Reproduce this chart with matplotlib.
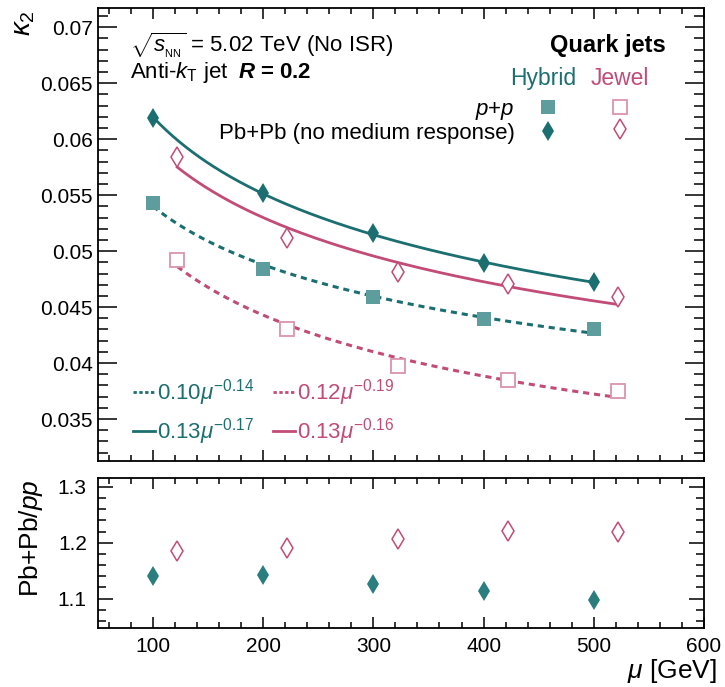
#!/usr/bin/python3
'''
Abstract:
    kappa_2 of quark jets vs mu, Hybrid and Jewel, p+p and Pb+Pb, with power law fits
Usage:
    plot.py
'''
import numpy as np
import matplotlib
matplotlib.use("Agg")
import matplotlib.pyplot as plt
from matplotlib.ticker import MultipleLocator, FuncFormatter
from matplotlib.lines import Line2D

#--------------------------------------------
# data
mu_hybrid = [100, 200, 300, 400, 500]
mu_jewel = [122, 222, 322, 422, 522]
kappa_hybrid_pp = [0.0543, 0.0484, 0.0459, 0.0439, 0.0430]
kappa_hybrid_pbpb = [0.0619, 0.0552, 0.0516, 0.0489, 0.0472]
kappa_jewel_pp = [0.0492, 0.0430, 0.0397, 0.0385, 0.0375]
kappa_jewel_pbpb = [0.0584, 0.0512, 0.0481, 0.0471, 0.0459]
ratio_hybrid = [1.140, 1.142, 1.126, 1.113, 1.098]
ratio_jewel = [1.185, 1.191, 1.207, 1.221, 1.219]
fit_labels_hybrid = [r'0.10$\mu^{-0.14}$', r'0.13$\mu^{-0.17}$']
fit_labels_jewel = [r'0.12$\mu^{-0.19}$', r'0.13$\mu^{-0.16}$']

# colours
teal = '#1c6f70'
teal_light = '#5e9d9e'
teal_ratio = '#2b7e7f'
pink = '#c24c77'
pink_light = '#dc93ad'

def power_fit(x, y):
    # fit y = a * x^b in log space, return a smooth curve over the data range
    b, log_a = np.polyfit(np.log(x), np.log(y), 1)
    xx = np.linspace(min(x), max(x), 200)
    return xx, np.exp(log_a) * xx ** b

#--------------------------------------------
# main code
if __name__ == "__main__":
    plt.rcParams['font.family'] = ['Liberation Sans', 'DejaVu Sans']
    plt.rcParams['mathtext.fontset'] = 'custom'
    plt.rcParams['mathtext.rm'] = 'Liberation Sans'
    plt.rcParams['mathtext.it'] = 'Liberation Sans:italic'
    plt.rcParams['mathtext.bf'] = 'Liberation Sans:bold'
    if 'mathtext.bfit' in plt.rcParams:
        plt.rcParams['mathtext.bfit'] = 'Liberation Sans:bold:italic'
    plt.rcParams['axes.linewidth'] = 1.3

    fs = 16
    tfs = 15
    fig = plt.figure(figsize=(7.25, 6.87), dpi=100)
    ax = fig.add_axes([0.135, 0.329, 0.836, 0.659])
    axr = fig.add_axes([0.135, 0.0855, 0.836, 0.219])

    #--------------------------------------------
    # top panel: kappa_2
    ms_sq = 9.5
    ms_d = 10
    ax.plot(*power_fit(mu_hybrid, kappa_hybrid_pp), color=teal, lw=2.2, ls=(0, (2.0, 1.6)))
    ax.plot(*power_fit(mu_hybrid, kappa_hybrid_pbpb), color=teal, lw=2.0)
    ax.plot(*power_fit(mu_jewel, kappa_jewel_pp), color=pink, lw=2.2, ls=(0, (2.0, 1.6)))
    ax.plot(*power_fit(mu_jewel, kappa_jewel_pbpb), color=pink, lw=2.0)

    h_hyb_pp, = ax.plot(mu_hybrid, kappa_hybrid_pp, 's', ms=ms_sq, color=teal_light, mew=0, ls='none')
    h_hyb_pb, = ax.plot(mu_hybrid, kappa_hybrid_pbpb, 'd', ms=ms_d, color=teal, mew=0, ls='none')
    h_jew_pp, = ax.plot(mu_jewel, kappa_jewel_pp, 's', ms=ms_sq, mfc='white', mec=pink_light, mew=1.3, ls='none')
    h_jew_pb, = ax.plot(mu_jewel, kappa_jewel_pbpb, 'd', ms=ms_d, mfc='white', mec=pink, mew=1.1, ls='none')

    ax.set_xlim(50, 600)
    ax.set_ylim(0.03125, 0.0717)
    ax.xaxis.set_major_locator(MultipleLocator(100))
    ax.xaxis.set_minor_locator(MultipleLocator(20))
    ax.yaxis.set_major_locator(MultipleLocator(0.005))
    ax.yaxis.set_minor_locator(MultipleLocator(0.001))
    ax.yaxis.set_major_formatter(FuncFormatter(lambda v, p: '%g' % round(v, 4)))
    ax.tick_params(which='both', direction='in', top=True, right=True, labelbottom=False, labelsize=tfs, width=1.1)
    ax.tick_params(axis='y', which='major', length=14)
    ax.tick_params(axis='y', which='minor', length=7)
    ax.tick_params(axis='x', which='major', length=8)
    ax.tick_params(axis='x', which='minor', length=4.5)
    ax.set_ylabel(r'$\kappa_2$', fontsize=20, loc='top')
    ax.yaxis.set_label_coords(-0.1, 0.995)

    # texts
    ax.text(0.053, 0.918, r'$\sqrt{s_{_{\mathrm{NN}}}}$ = 5.02 TeV (No ISR)', transform=ax.transAxes,
            fontsize=fs, va='center')
    t_jet = ax.text(0.053, 0.845, r'Anti-$k_{\mathrm{T}}$ jet', transform=ax.transAxes, fontsize=fs, va='baseline')
    fig.canvas.draw()
    bb = t_jet.get_window_extent(fig.canvas.get_renderer())
    x_end = ax.transAxes.inverted().transform((bb.x1, bb.y0))[0]
    ax.text(x_end + 0.015, 0.845, r'$\mathbfit{R}$ = 0.2', transform=ax.transAxes, fontsize=fs,
            va='baseline', fontweight='bold')
    ax.text(0.937, 0.918, 'Quark jets', transform=ax.transAxes, fontsize=17, fontweight='bold',
            ha='right', va='center')
    ax.text(0.734, 0.845, 'Hybrid', transform=ax.transAxes, fontsize=16.5, color=teal, ha='center', va='center')
    ax.text(0.861, 0.845, 'Jewel', transform=ax.transAxes, fontsize=16.5, color=pink, ha='center', va='center')

    # marker legend
    leg1 = ax.legend([h_hyb_pp, h_hyb_pb, h_jew_pp, h_jew_pb],
                     [r'$p$+$p$', 'Pb+Pb (no medium response)', '', ''],
                     ncol=2, markerfirst=False, frameon=False, fontsize=fs,
                     loc='upper right', bbox_to_anchor=(0.8795, 0.80), borderpad=0, borderaxespad=0,
                     handlelength=1.0, handletextpad=1.0, columnspacing=1.24, labelspacing=0.04)
    ax.add_artist(leg1)

    # fit legend
    fit_handles = [Line2D([], [], color=teal, lw=2.0, ls=(0, (1.2, 0.9))),
                   Line2D([], [], color=teal, lw=2.0),
                   Line2D([], [], color=pink, lw=2.0, ls=(0, (1.2, 0.9))),
                   Line2D([], [], color=pink, lw=2.0)]
    leg2 = ax.legend(fit_handles, fit_labels_hybrid + fit_labels_jewel, ncol=2, frameon=False,
                     fontsize=fs, loc='lower left', bbox_to_anchor=(0.058, 0.03), borderpad=0,
                     borderaxespad=0, handlelength=1.0, handletextpad=0.1, columnspacing=0.8,
                     labelspacing=0.38)
    for t, c in zip(leg2.get_texts(), [teal, teal, pink, pink]):
        t.set_color(c)

    #--------------------------------------------
    # bottom panel: ratio
    axr.plot(mu_hybrid, ratio_hybrid, 'd', ms=ms_d, color=teal_ratio, mew=0, ls='none')
    axr.plot(mu_jewel, ratio_jewel, 'd', ms=ms_d, mfc='white', mec=pink, mew=1.1, ls='none')
    axr.set_xlim(50, 600)
    axr.set_ylim(1.047, 1.316)
    axr.xaxis.set_major_locator(MultipleLocator(100))
    axr.xaxis.set_minor_locator(MultipleLocator(20))
    axr.yaxis.set_major_locator(MultipleLocator(0.1))
    axr.yaxis.set_minor_locator(MultipleLocator(0.02))
    axr.tick_params(which='both', direction='in', top=True, right=True, labelsize=tfs, width=1.1)
    axr.tick_params(axis='x', pad=6)
    axr.tick_params(axis='y', pad=8)
    axr.tick_params(axis='y', which='major', length=11)
    axr.tick_params(axis='y', which='minor', length=5.5)
    axr.tick_params(axis='x', which='major', length=8)
    axr.tick_params(axis='x', which='minor', length=4.5)
    axr.set_ylabel(r'Pb+Pb/$pp$', fontsize=19, loc='top')
    axr.yaxis.set_label_coords(-0.0875, 0.987)
    axr.set_xlabel(r'$\mu$ [GeV]', fontsize=19, loc='right')
    axr.xaxis.set_label_coords(1.0215, -0.19)

    fig.savefig("out.png", dpi=100)
